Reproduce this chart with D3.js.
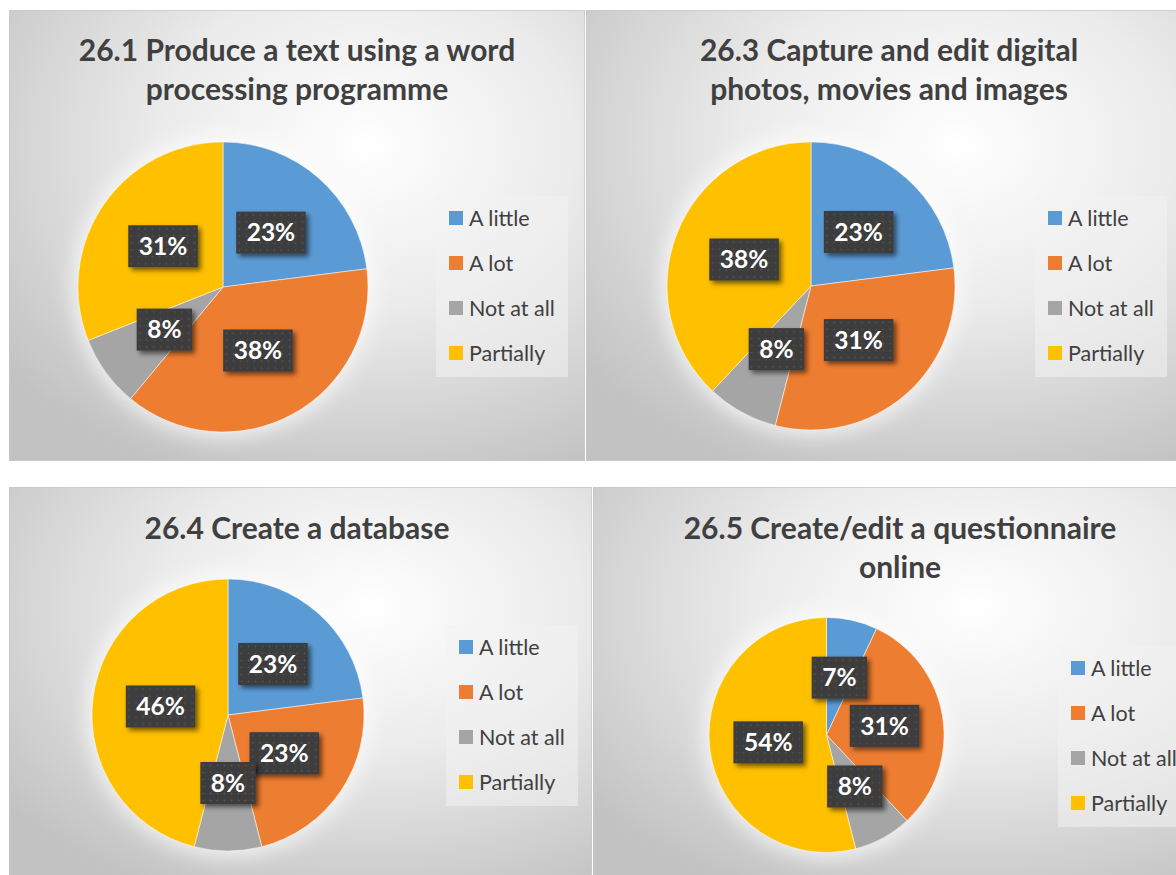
<!DOCTYPE html>
<html>
<head>
<meta charset="utf-8">
<script src="https://cdn.jsdelivr.net/npm/d3@7"></script>
<style>
  html, body { margin: 0; padding: 0; background: #fff; }
  svg { display: block; }
  text { font-family: Lato, "Open Sans", sans-serif; }
</style>
</head>
<body>
<div id="chart"></div>
<script>
// categories shared by all four pies
const categories = ["A little", "A lot", "Not at all", "Partially"];
const colors = ["#5B9BD5", "#ED7D31", "#A5A5A5", "#FFC000"];

// percentages per question
const values261 = [23, 38, 8, 31];
const values263 = [23, 31, 8, 38];
const values264 = [23, 23, 8, 46];
const values265 = [7, 31, 8, 54];

const titles261 = ["26.1 Produce a text using a word", "processing programme"];
const titles263 = ["26.3 Capture and edit digital", "photos, movies and images"];
const titles264 = ["26.4 Create a database"];
const titles265 = ["26.5 Create/edit a questionnaire", "online"];

const width = 1176, height = 875;

// panel layout (positions only)
const panels = [
  { values: values261, title: titles261, box: [9, 10, 576, 451], cx: 223, cy: 287, r: 145, tx: 297, ty: 61, lx: 436, ly: 196 },
  { values: values263, title: titles263, box: [586, 10, 600, 451], cx: 811, cy: 286, r: 144, tx: 889, ty: 61, lx: 1035, ly: 196 },
  { values: values264, title: titles264, box: [9, 487, 583, 400], cx: 228, cy: 715, r: 136, tx: 297, ty: 539, lx: 446, ly: 625 },
  { values: values265, title: titles265, box: [593, 487, 614, 400], cx: 826.5, cy: 735, r: 117.5, tx: 900, ty: 539, lx: 1058, ly: 646 }
];

const svg = d3.select("#chart").append("svg")
  .attr("width", width)
  .attr("height", height);

const defs = svg.append("defs");

const grad = defs.append("radialGradient")
  .attr("id", "bg")
  .attr("cx", "62%").attr("cy", "30%").attr("r", "80%");
grad.append("stop").attr("offset", "0%").attr("stop-color", "#ffffff");
grad.append("stop").attr("offset", "45%").attr("stop-color", "#ebebeb");
grad.append("stop").attr("offset", "100%").attr("stop-color", "#c2c2c2");

// dotted dark fill for the data labels
const pat = defs.append("pattern")
  .attr("id", "dots")
  .attr("patternUnits", "userSpaceOnUse")
  .attr("width", 7).attr("height", 7);
pat.append("rect").attr("width", 7).attr("height", 7).attr("fill", "#3c3c3c");
pat.append("circle").attr("cx", 3.5).attr("cy", 3.5).attr("r", 1).attr("fill", "#535353");

const shadow = defs.append("filter").attr("id", "shadow")
  .attr("x", "-20%").attr("y", "-20%").attr("width", "150%").attr("height", "160%");
shadow.append("feDropShadow")
  .attr("dx", 3).attr("dy", 3).attr("stdDeviation", 2.5)
  .attr("flood-color", "#000").attr("flood-opacity", 0.55);

const glow = defs.append("filter").attr("id", "glow")
  .attr("x", "-30%").attr("y", "-30%").attr("width", "160%").attr("height", "160%");
glow.append("feGaussianBlur").attr("stdDeviation", 10);

const pie = d3.pie().sort(null).value(d => d);

panels.forEach((p, i) => {
  const clipId = "clip" + i;
  defs.append("clipPath").attr("id", clipId)
    .append("rect")
    .attr("x", p.box[0]).attr("y", p.box[1])
    .attr("width", p.box[2]).attr("height", p.box[3]);

  const g = svg.append("g").attr("clip-path", `url(#${clipId})`);

  g.append("rect")
    .attr("x", p.box[0]).attr("y", p.box[1])
    .attr("width", p.box[2]).attr("height", p.box[3])
    .attr("fill", "url(#bg)")
    .attr("stroke", "#c8c8c8")
    .attr("stroke-width", 1.5);

  // title
  const title = g.append("text")
    .attr("text-anchor", "middle")
    .attr("fill", "#404040")
    .attr("font-size", 30)
    .attr("font-weight", 700);
  p.title.forEach((t, j) => {
    title.append("tspan")
      .attr("x", p.tx)
      .attr("y", p.ty + j * 39)
      .text(t);
  });

  // soft glow behind the pie
  g.append("circle")
    .attr("cx", p.cx).attr("cy", p.cy).attr("r", p.r + 6)
    .attr("fill", "#fff").attr("opacity", 0.7)
    .attr("filter", "url(#glow)");

  const arc = d3.arc().innerRadius(0).outerRadius(p.r);
  const arcs = pie(p.values);

  const pg = g.append("g").attr("transform", `translate(${p.cx},${p.cy})`);
  pg.selectAll("path")
    .data(arcs)
    .join("path")
    .attr("d", arc)
    .attr("fill", (d, k) => colors[k])
    .attr("stroke", "#ffffff")
    .attr("stroke-opacity", 0.5)
    .attr("stroke-width", 1);

  // data labels
  const lab = pg.selectAll("g.lab")
    .data(arcs)
    .join("g")
    .attr("class", "lab")
    .attr("transform", d => `translate(${arc.centroid(d)})`);

  lab.each(function(d) {
    const el = d3.select(this);
    const rect = el.append("rect").attr("fill", "url(#dots)").attr("filter", "url(#shadow)");
    const txt = el.append("text")
      .attr("text-anchor", "middle")
      .attr("dy", "0.36em")
      .attr("fill", "#fff")
      .attr("font-size", 24.5)
      .attr("font-weight", 700)
      .text(d.data + "%");
    const w = txt.node().getComputedTextLength() + 21;
    rect.attr("x", -w / 2).attr("y", -21).attr("width", w).attr("height", 42);
  });

  // legend
  const lg = g.append("g").attr("transform", `translate(${p.lx},${p.ly})`);
  lg.append("rect")
    .attr("width", 132).attr("height", 181)
    .attr("fill", "#f2f2f2").attr("opacity", 0.55);
  const items = lg.selectAll("g.item")
    .data(categories)
    .join("g")
    .attr("class", "item")
    .attr("transform", (d, k) => `translate(13,${22 + k * 45})`);
  items.append("rect")
    .attr("y", -7).attr("width", 14).attr("height", 14)
    .attr("fill", (d, k) => colors[k]);
  items.append("text")
    .attr("x", 20).attr("dy", "0.35em")
    .attr("fill", "#404040")
    .attr("font-size", 21.5)
    .text(d => d);
});
</script>
</body>
</html>
